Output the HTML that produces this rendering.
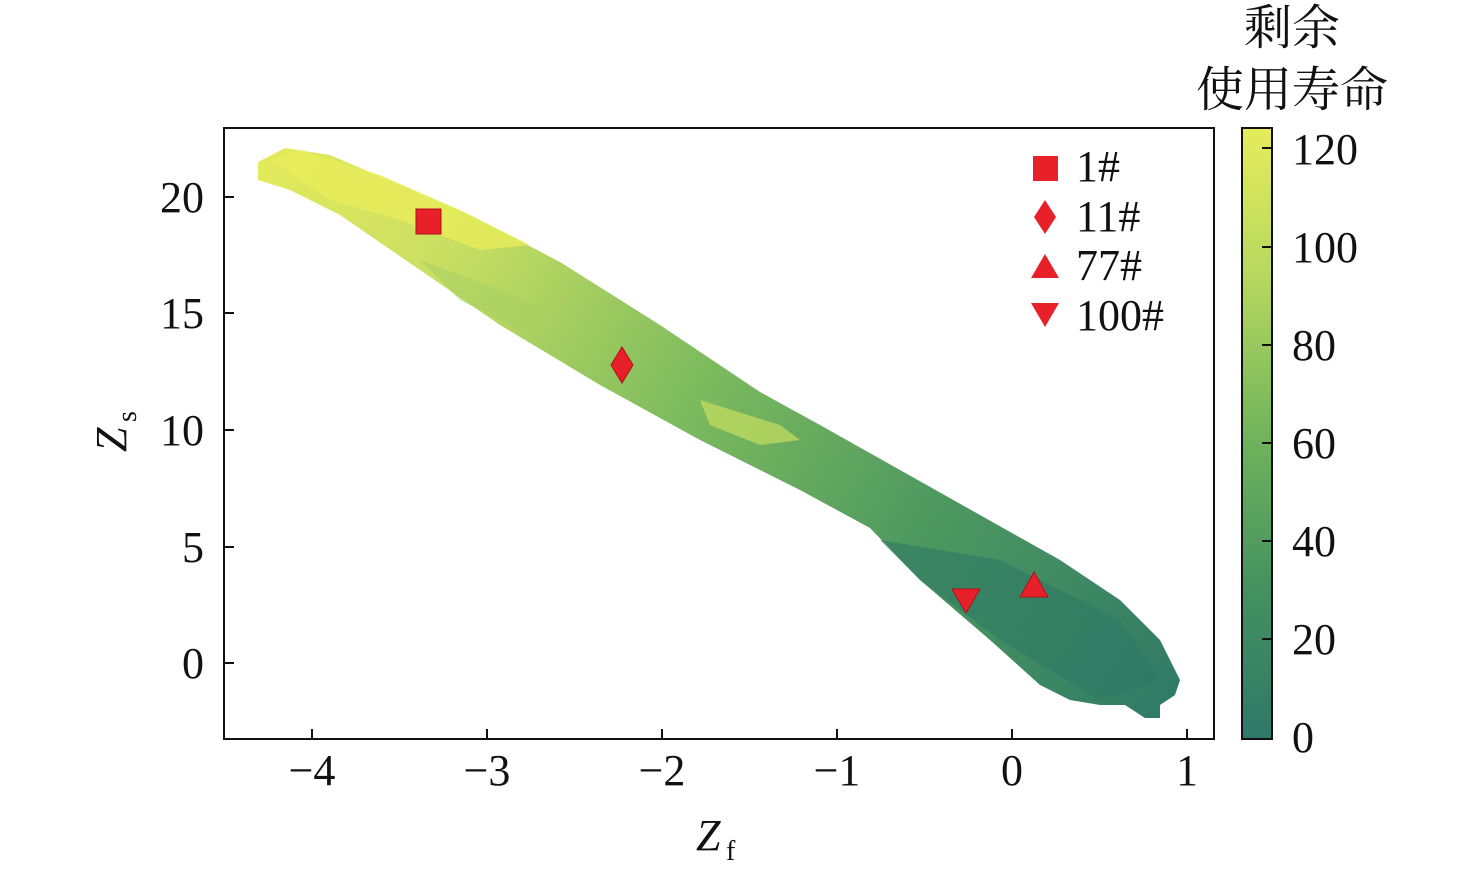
<!DOCTYPE html>
<html><head><meta charset="utf-8"><style>
body{margin:0;background:#fff;}
text{font-family:"Liberation Serif","Noto Serif CJK SC",serif;fill:#111;}
</style></head><body>
<svg width="1476" height="877" viewBox="0 0 1476 877" xmlns="http://www.w3.org/2000/svg">
<defs>
<linearGradient id="band" x1="258" y1="170" x2="1180" y2="700" gradientUnits="userSpaceOnUse">
<stop offset="0" stop-color="#e3ea5c"/>
<stop offset="0.2" stop-color="#c8de62"/>
<stop offset="0.45" stop-color="#7fbc5e"/>
<stop offset="0.7" stop-color="#4f9a5f"/>
<stop offset="1" stop-color="#2f7a66"/>
</linearGradient>
<linearGradient id="cb" x1="0" y1="0" x2="0" y2="1">
<stop offset="0" stop-color="#e6ec5c"/>
<stop offset="0.25" stop-color="#b6d75f"/>
<stop offset="0.5" stop-color="#72b45c"/>
<stop offset="0.75" stop-color="#459260"/>
<stop offset="1" stop-color="#2e7868"/>
</linearGradient>
</defs>
<path d="M258,162 L285,148 L330,155 L400,185 L470,215 L560,262 L660,325 L760,392 L820,425 L900,470 L980,515 L1060,560 L1120,600 L1160,640 L1180,680 L1175,695 L1160,705 L1160,718 L1145,718 L1125,705 L1100,705 L1070,700 L1040,685 L990,640 L920,580 L870,528 L800,490 L700,440 L600,385 L500,325 L420,270 L340,215 L290,190 L258,180 Z" fill="url(#band)"/>
<path d="M270,160 L300,150 L380,175 L460,210 L530,245 L480,250 L400,220 L330,200 Z" fill="#e8ec5a" opacity="0.8"/>
<path d="M420,260 L500,290 L560,320 L520,330 L460,300 Z" fill="#a9d064" opacity="0.6"/>
<path d="M700,400 L780,425 L800,440 L760,445 L710,425 Z" fill="#c8de60" opacity="0.7"/>
<path d="M880,540 L1000,560 L1120,620 L1160,680 L1100,700 L1000,640 L920,580 Z" fill="#2f7866" opacity="0.6"/>
<rect x="224" y="128" width="990" height="611" fill="none" stroke="#111" stroke-width="2"/>
<g stroke="#111" stroke-width="2">
<line x1="312" y1="739" x2="312" y2="729"/><line x1="487" y1="739" x2="487" y2="729"/><line x1="662" y1="739" x2="662" y2="729"/><line x1="837" y1="739" x2="837" y2="729"/><line x1="1012" y1="739" x2="1012" y2="729"/><line x1="1187" y1="739" x2="1187" y2="729"/>
<line x1="224" y1="197" x2="234" y2="197"/><line x1="224" y1="313" x2="234" y2="313"/><line x1="224" y1="430" x2="234" y2="430"/><line x1="224" y1="547" x2="234" y2="547"/><line x1="224" y1="663" x2="234" y2="663"/>
</g>
<g font-size="44" text-anchor="middle">
<text x="312" y="785">−4</text><text x="487" y="785">−3</text><text x="662" y="785">−2</text><text x="837" y="785">−1</text><text x="1012" y="785">0</text><text x="1187" y="785">1</text>
</g>
<g font-size="44" text-anchor="end">
<text x="204" y="212">20</text><text x="204" y="328">15</text><text x="204" y="445">10</text><text x="204" y="562">5</text><text x="204" y="678">0</text>
</g>
<text x="696" y="850" font-size="44" font-style="italic">Z</text><text x="726" y="860" font-size="28">f</text>
<g transform="translate(126,452) rotate(-90)"><text x="0" y="0" font-size="44" font-style="italic">Z</text><text x="30" y="10" font-size="28">s</text></g>
<rect x="416" y="209" width="25" height="25" fill="#e8202a" stroke="#b01018"/>
<path d="M622,347 L633,365 L622,383 L611,365 Z" fill="#e8202a" stroke="#b01018"/>
<path d="M1034,572 L1048,597 L1020,597 Z" fill="#e8202a" stroke="#b01018"/>
<path d="M952,589 L980,589 L966,613 Z" fill="#e8202a" stroke="#b01018"/>
<rect x="1033" y="156" width="25" height="25" fill="#e8202a"/>
<path d="M1045,200 L1056,217 L1045,234 L1034,217 Z" fill="#e8202a"/>
<path d="M1045,254 L1059,278 L1031,278 Z" fill="#e8202a"/>
<path d="M1031,303 L1059,303 L1045,327 Z" fill="#e8202a"/>
<g font-size="44"><text x="1076" y="181">1#</text><text x="1076" y="231">11#</text><text x="1076" y="280">77#</text><text x="1076" y="330">100#</text></g>
<rect x="1242" y="128" width="30" height="611" fill="url(#cb)" stroke="#111" stroke-width="2"/>
<g stroke="#111" stroke-width="2">
<line x1="1262" y1="148" x2="1272" y2="148"/><line x1="1262" y1="247" x2="1272" y2="247"/><line x1="1262" y1="345" x2="1272" y2="345"/><line x1="1262" y1="443" x2="1272" y2="443"/><line x1="1262" y1="541" x2="1272" y2="541"/><line x1="1262" y1="639" x2="1272" y2="639"/>
</g>
<g font-size="44"><text x="1292" y="164">120</text><text x="1292" y="262">100</text><text x="1292" y="360">80</text><text x="1292" y="458">60</text><text x="1292" y="556">40</text><text x="1292" y="654">20</text><text x="1292" y="752">0</text></g>
<text x="1292" y="44" font-size="48" text-anchor="middle">剩余</text>
<text x="1292" y="106" font-size="48" text-anchor="middle">使用寿命</text>
</svg>
</body></html>
